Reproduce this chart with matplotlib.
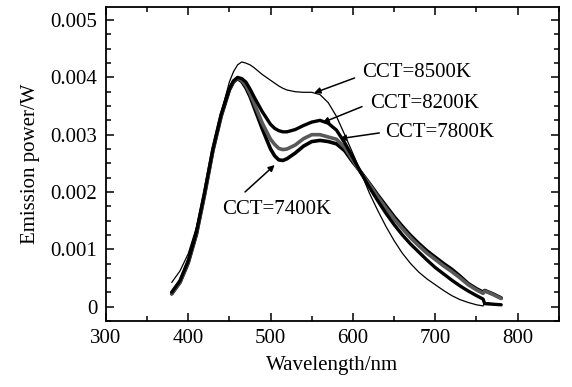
import numpy as np
import matplotlib
matplotlib.use('Agg')
import matplotlib.pyplot as plt
from matplotlib.ticker import MultipleLocator

plt.rcParams['font.family'] = ['Liberation Serif', 'DejaVu Serif']
plt.rcParams['font.size'] = 15

# wavelength grid (nm); the spectra have a small step near 760 nm
wavelength = [380, 390, 400, 410, 420, 430, 440, 450, 455, 460, 465, 470, 475,
              480, 490, 500, 505, 510, 515, 520, 530, 540, 550, 560, 570, 580,
              590, 600, 610, 620, 630, 640, 650, 660, 670, 680, 690, 700, 710,
              720, 730, 740, 750, 758, 760, 770, 780]

# emission power in mW
p_8500 = [0.42, 0.62, 0.92, 1.38, 2.00, 2.70, 3.38, 3.92, 4.10, 4.22, 4.27, 4.25,
          4.22, 4.17, 4.05, 3.95, 3.90, 3.85, 3.81, 3.78, 3.75, 3.74, 3.74, 3.70,
          3.56, 3.32, 3.00, 2.67, 2.33, 1.98, 1.68, 1.40, 1.15, 0.93, 0.75, 0.60,
          0.48, 0.38, 0.28, 0.19, 0.12, 0.07, 0.03, 0.01, 0.07, 0.05, 0.03]
p_8200 = [0.25, 0.45, 0.80, 1.30, 2.00, 2.75, 3.35, 3.80, 3.94, 4.00, 3.98, 3.92,
          3.80, 3.66, 3.40, 3.18, 3.11, 3.07, 3.05, 3.05, 3.09, 3.16, 3.22, 3.25,
          3.20, 3.08, 2.86, 2.60, 2.33, 2.08, 1.85, 1.63, 1.43, 1.25, 1.09, 0.95,
          0.81, 0.68, 0.57, 0.46, 0.36, 0.27, 0.19, 0.13, 0.05, 0.04, 0.03]
p_7800 = [0.23, 0.43, 0.78, 1.28, 1.98, 2.74, 3.34, 3.80, 3.93, 3.99, 3.95, 3.86,
          3.72, 3.55, 3.20, 2.92, 2.83, 2.76, 2.74, 2.75, 2.82, 2.93, 3.00, 3.00,
          2.96, 2.92, 2.78, 2.55, 2.33, 2.13, 1.92, 1.72, 1.53, 1.36, 1.20, 1.06,
          0.93, 0.82, 0.71, 0.61, 0.50, 0.38, 0.29, 0.23, 0.27, 0.21, 0.14]
p_7400 = [0.22, 0.42, 0.76, 1.26, 1.96, 2.72, 3.32, 3.78, 3.92, 3.98, 3.93, 3.82,
          3.67, 3.48, 3.10, 2.75, 2.63, 2.56, 2.55, 2.58, 2.68, 2.80, 2.88, 2.90,
          2.88, 2.84, 2.72, 2.52, 2.34, 2.15, 1.95, 1.76, 1.57, 1.40, 1.24, 1.10,
          0.97, 0.86, 0.75, 0.65, 0.53, 0.40, 0.31, 0.25, 0.28, 0.22, 0.15]

labels = ['CCT=8500K', 'CCT=8200K', 'CCT=7800K', 'CCT=7400K']

wl = np.array(wavelength)
fig = plt.figure(figsize=(5.72, 3.87), dpi=100)
ax = fig.add_axes([0.185, 0.171, 0.792, 0.811])

style = dict(solid_joinstyle='round', solid_capstyle='round')
ax.plot(wl, np.array(p_7400) * 1e-3, color='black', lw=2.6, **style)
ax.plot(wl, np.array(p_7800) * 1e-3, color='0.35', lw=2.6, **style)
ax.plot(wl, np.array(p_8200) * 1e-3, color='black', lw=2.4, **style)
ax.plot(wl, np.array(p_8500) * 1e-3, color='black', lw=0.9, **style)

ax.set_xlim(300, 850)
ax.set_ylim(-0.00025, 0.00523)
ax.xaxis.set_major_locator(MultipleLocator(100))
ax.xaxis.set_minor_locator(MultipleLocator(50))
ax.yaxis.set_minor_locator(MultipleLocator(0.00025))
ax.set_yticks([0, 0.001, 0.002, 0.003, 0.004, 0.005])
ax.set_yticklabels(['0', '0.001', '0.002', '0.003', '0.004', '0.005'])
ax.tick_params(which='both', direction='in', top=True, right=True, width=1.1)
ax.tick_params(which='major', length=6, pad=6)
ax.tick_params(which='minor', length=3.5)
for s in ax.spines.values():
    s.set_linewidth(1.3)

ax.set_xlabel('Wavelength/nm', labelpad=6)
ax.set_ylabel('Emission power/W', labelpad=8)

# annotations: (text position, arrow tip)
ann_text = [(611, 0.00408), (621, 0.00355), (639, 0.00303), (441, 0.00169)]
ann_tip = [(553, 0.00373), (563, 0.00321), (584, 0.00293), (505, 0.00247)]
ann_tail = [(602, 0.00399), (611, 0.00349), (632, 0.00303), (469, 0.00200)]
for lab, tp, tip, tail in zip(labels, ann_text, ann_tip, ann_tail):
    ax.text(tp[0], tp[1], lab, ha='left', va='center')
    ax.annotate('', xy=tip, xytext=tail,
                arrowprops=dict(arrowstyle='-|>', color='black', lw=1.1,
                                mutation_scale=9, shrinkA=0, shrinkB=0))

fig.savefig('out.png', dpi=100)
